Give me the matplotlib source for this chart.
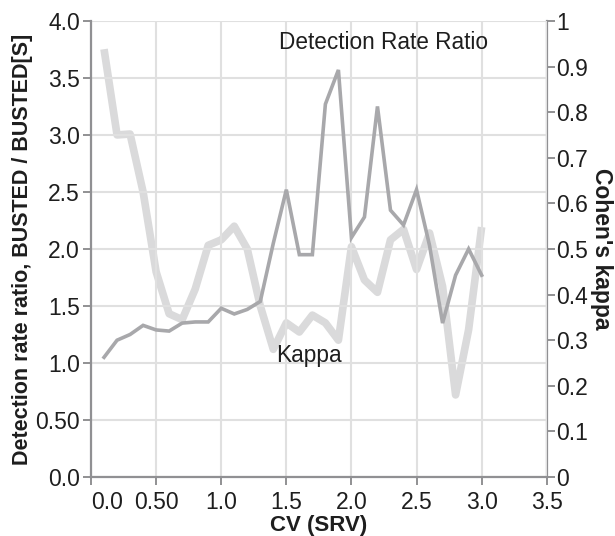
import matplotlib
matplotlib.use("Agg")
import matplotlib.pyplot as plt

plt.rcParams['font.family'] = ['Liberation Sans', 'DejaVu Sans']

cv = [0.1, 0.2, 0.3, 0.4, 0.5, 0.6, 0.7, 0.8, 0.9, 1.0,
      1.1, 1.2, 1.3, 1.4, 1.5, 1.6, 1.7, 1.8, 1.9, 2.0,
      2.1, 2.2, 2.3, 2.4, 2.5, 2.6, 2.7, 2.8, 2.9, 3.0]

detection_ratio = [1.05, 1.20, 1.25, 1.33, 1.29, 1.28, 1.35, 1.36, 1.36, 1.48,
                   1.43, 1.47, 1.54, 2.05, 2.52, 1.95, 1.95, 3.27, 3.57, 2.10,
                   2.28, 3.25, 2.34, 2.21, 2.52, 2.03, 1.35, 1.77, 2.00, 1.77]

kappa = [0.938, 0.750, 0.752, 0.625, 0.450, 0.358, 0.345, 0.412, 0.508, 0.520,
         0.550, 0.500, 0.375, 0.280, 0.338, 0.318, 0.355, 0.338, 0.300, 0.505,
         0.432, 0.405, 0.520, 0.543, 0.455, 0.535, 0.418, 0.180, 0.323, 0.548]

x_ticks = [0.0, 0.5, 1.0, 1.5, 2.0, 2.5, 3.0, 3.5]
x_tick_labels = ["0.0", "0.50", "1.0", "1.5", "2.0", "2.5", "3.0", "3.5"]
left_ticks = [0.0, 0.5, 1.0, 1.5, 2.0, 2.5, 3.0, 3.5, 4.0]
left_tick_labels = ["0.0", "0.50", "1.0", "1.5", "2.0", "2.5", "3.0", "3.5", "4.0"]
right_ticks = [0.0, 0.1, 0.2, 0.3, 0.4, 0.5, 0.6, 0.7, 0.8, 0.9, 1.0]
right_tick_labels = ["0", "0.1", "0.2", "0.3", "0.4", "0.5", "0.6", "0.7", "0.8", "0.9", "1"]

fig = plt.figure(figsize=(6.15, 5.36), dpi=100)
ax = fig.add_axes([0.148, 0.110, 0.741, 0.851])
ax2 = ax.twinx()

spine_col = "#909093"
grid_col = "#e0e0e0"
dark_col = "#a8a8ab"
light_col = "#dadadb"
text_col = "#1e1e1e"

ax2.plot(cv, kappa, color=light_col, lw=5.5, solid_joinstyle='round',
         solid_capstyle='butt', zorder=2)
ax.plot(cv, detection_ratio, color=dark_col, lw=2.6, solid_joinstyle='miter', zorder=3)

ax.set_zorder(ax2.get_zorder() + 1)
ax.patch.set_visible(False)

ax.set_xlim(0, 3.5)
ax.set_ylim(0, 4.0)
ax2.set_ylim(0, 1.0)

ax.set_xticks(x_ticks)
ax.set_xticklabels(x_tick_labels)
ax.get_xticklabels()[0].set_horizontalalignment('left')
ax.set_yticks(left_ticks)
ax.set_yticklabels(left_tick_labels)
ax2.set_yticks(right_ticks)
ax2.set_yticklabels(right_tick_labels)

ax.grid(True, color=grid_col, lw=1.5, zorder=0)
ax.set_axisbelow(True)

for a in (ax, ax2):
    for s in a.spines.values():
        s.set_color(spine_col)
        s.set_linewidth(1.6)
    a.spines['top'].set_visible(False)
    a.tick_params(colors=spine_col, labelcolor=text_col, labelsize=16.5,
                  length=6, width=1.4)
ax.spines['right'].set_visible(False)
ax2.spines['left'].set_visible(False)
ax2.spines['bottom'].set_visible(False)
ax.tick_params(axis='y', pad=2)
ax.tick_params(axis='x', pad=4)
ax2.tick_params(axis='y', pad=1)

ax.set_xlabel("CV (SRV)", fontsize=16, fontweight='bold', labelpad=1, color=text_col)
ax.set_ylabel("Detection rate ratio, BUSTED / BUSTED[S]", fontsize=15.5,
              fontweight='bold', labelpad=2, color=text_col)
ax2.set_ylabel("Cohen's kappa", fontsize=16.5, fontweight='bold', rotation=-90,
               labelpad=18, color=text_col)

ax.text(1.44, 3.75, "Detection Rate Ratio", fontsize=16.3, color=text_col,
        ha='left', va='baseline')
ax.text(1.42, 1.01, "Kappa", fontsize=16.3, color=text_col,
        ha='left', va='baseline')

fig.savefig("out.png", dpi=100)
